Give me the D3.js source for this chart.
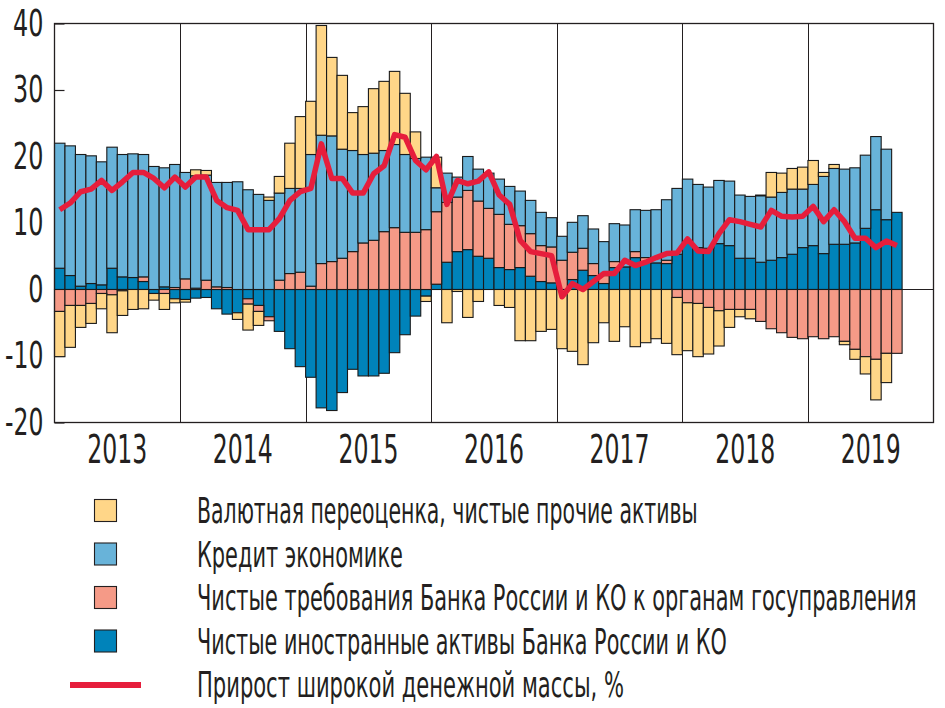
<!DOCTYPE html>
<html>
<head>
<meta charset="utf-8">
<script src="https://cdn.jsdelivr.net/npm/d3@7"></script>
<style>
  html, body { margin: 0; padding: 0; background: #fff; }
  svg { display: block; }
  text { font-family: "Liberation Sans Narrow", "Arial Narrow", "DejaVu Sans Condensed", sans-serif; fill: #231f20; }
</style>
</head>
<body>
<svg id="chart" width="945" height="708"></svg>
<script>
// ---------- DATA ----------
const years = ["2013", "2014", "2015", "2016", "2017", "2018", "2019"];
const yTicks = [-20, -10, 0, 10, 20, 30, 40];

// Чистые иностранные активы Банка России и КО (monthly, Jan 2013 – Sep 2019)
const foreignAssets = [
  3.2, 2.1, 0.5, 0.9, 0.7, 3.2, 1.9, 1.8, 1.2, -0.6, 0.4, -1.4,
  -1.5, -1.3, -1.2, -2.9, -3.7, -3.5, -1.4, -2.4, -4.1, -6.3, -8.9, -11.6,
  -13.2, -17.8, -18.2, -15.5, -12.0, -13.0, -13.0, -12.6, -9.5, -6.8, -4.0, -1.0,
  0.8, 4.1, 5.7, 6.0, 5.0, 4.7, 3.3, 3.0, 3.3, 2.0, 1.2, 1.0,
  0, 1.5, 2.9, 2.1, 0.9, 3.3, 3.4, 4.8, 4.2, 4.0, 3.9, 5.3,
  7.2, 6.3, 6.2, 6.9, 6.6, 4.7, 4.7, 4.1, 4.4, 4.8, 5.3, 6.3,
  6.6, 5.4, 6.8, 6.8, 7.0, 9.2, 12.0, 10.5, 11.6
];
// Чистые требования Банка России и КО к органам госуправления
const govClaims = [
  -3.3, -2.4, -2.4, -2.1, -0.6, -0.8, -0.2, 0, 0.7, 0, -0.6, 0.3,
  1.6, 0.2, 1.4, 0.4, 0.3, 0, -0.8, -0.9, -0.6, 1.4, 2.4, 2.6,
  0.5, 3.9, 4.2, 4.7, 5.7, 7.0, 7.4, 8.7, 9.3, 8.6, 8.6, 9.0,
  10.9, 9.0, 8.2, 8.9, 8.3, 7.5, 8.0, 6.8, 6.3, 6.4, 5.4, 5.4,
  4.4, 4.1, 3.3, 1.8, 1.2, 0.9, 0, 0.9, 0.6, 0, 0.5, -1.2,
  -2.0, -2.1, -2.7, -3.2, -3.0, -3.0, -3.0, -4.8, -5.9, -6.5, -7.2, -7.4,
  -7.1, -7.4, -7.1, -7.8, -9.0, -10.1, -10.5, -9.6, -9.6
];
// Кредит экономике
const creditEconomy = [
  18.8, 19.5, 19.8, 19.2, 18.5, 18.2, 18.4, 18.6, 18.4, 18.5, 17.9, 18.5,
  16.0, 16.9, 15.8, 15.7, 15.8, 16.2, 15.0, 14.3, 13.4, 13.1, 12.8, 12.6,
  19.8, 19.3, 18.9, 16.4, 15.2, 13.3, 13.1, 12.2, 12.5, 11.7, 11.1, 10.9,
  3.6, 4.4, 3.0, 5.1, 4.8, 5.3, 5.3, 5.7, 5.2, 5.0, 5.0, 4.4,
  3.6, 4.5, 4.9, 5.2, 5.1, 5.7, 6.3, 6.3, 7.1, 8.0, 9.1, 9.9,
  9.4, 9.5, 9.2, 9.5, 9.7, 9.5, 9.3, 10.0, 9.5, 9.8, 9.8, 8.8,
  9.2, 11.6, 11.4, 11.3, 11.3, 11.0, 11.0, 10.6, 0
];
// Валютная переоценка, чистые прочие активы
const fxOther = [
  -6.8, -6.3, -3.3, -3.0, -2.3, -5.7, -3.7, -3.0, -2.9, -1.0, -2.4, -0.6,
  -0.4, 0.9, 0.7, 0, 0, -1.0, -3.9, -2.1, 0.5, 2.5, 6.8, 10.8,
  8.0, 16.5, 11.8, 11.1, 5.7, 7.2, 9.7, 10.4, 11.0, 9.2, 4.0, -0.8,
  4.6, -5.0, -0.3, -4.2, -1.8, 0, -2.4, -2.7, -7.7, -7.7, -6.3, -6.0,
  -8.9, -9.3, -11.3, -8.0, -5.0, -7.8, -5.6, -8.6, -8.0, -7.4, -8.1, -8.6,
  -7.2, -8.0, -7.0, -5.3, -2.7, -1.1, -1.4, 0.1, 3.7, 2.9, 3.1, 3.3,
  3.6, 0.6, 0.6, -0.5, -1.5, -2.6, -6.1, -4.4, 0
];
// Прирост широкой денежной массы, %
const moneyGrowth = [
  12.0, 13.0, 14.7, 15.1, 16.4, 14.9, 16.2, 17.6, 17.6, 16.7, 15.3, 16.9,
  15.4, 16.9, 16.9, 13.4, 12.3, 11.9, 9.0, 9.0, 9.0, 10.7, 13.4, 14.7,
  15.2, 21.9, 16.7, 16.7, 14.5, 14.5, 17.4, 18.6, 23.3, 22.9, 19.4, 18.0,
  20.0, 12.8, 16.4, 15.9, 16.3, 17.7, 14.2, 12.8, 7.4, 5.7, 5.4, 5.1,
  -1.1, 0.9, 0.0, 1.2, 2.4, 2.4, 4.4, 3.6, 4.1, 4.8, 5.4, 5.5,
  7.6, 5.8, 5.7, 8.4, 10.5, 10.2, 9.8, 9.4, 11.9, 11.0, 10.9, 11.0,
  12.5, 10.2, 12.0, 10.2, 7.7, 7.7, 6.3, 7.3, 6.6
];

const seriesKeys = ["fa", "gov", "credit", "fx"];
const seriesColors = { fa: "#0083ba", gov: "#f59a87", credit: "#68b3d9", fx: "#ffd688" };
const legendLabels = [
  "Валютная переоценка, чистые прочие активы",
  "Кредит экономике",
  "Чистые требования Банка России и КО к органам госуправления",
  "Чистые иностранные активы Банка России и КО",
  "Прирост широкой денежной массы, %"
];
const legendKeys = ["fx", "credit", "gov", "fa", "line"];
const legendWidths = [501, 206, 720, 530, 427];
const lineColor = "#e61e3c";

// ---------- BUILD ----------
const allMonths = [];
years.forEach(y => { for (let m = 1; m <= 12; m++) allMonths.push(y + "-" + String(m).padStart(2, "0")); });
const table = foreignAssets.map((v, i) => ({
  month: allMonths[i], fa: v, gov: govClaims[i], credit: creditEconomy[i], fx: fxOther[i], line: moneyGrowth[i]
}));

const svg = d3.select("#chart");
const L = 54.5, R = 933.5, T = 23.5, B = 422.5;

const x = d3.scaleBand().domain(allMonths).range([L, R]).padding(0);
const xYear = d3.scaleBand().domain(years).range([L, R]).padding(0);
const y = d3.scaleLinear().domain([-20, 40]).range([B, T]);

// year gridlines
svg.append("g").selectAll("line").data(years.slice(1)).join("line")
  .attr("x1", d => Math.round(xYear(d)) + 0.5).attr("x2", d => Math.round(xYear(d)) + 0.5)
  .attr("y1", T).attr("y2", B).attr("stroke", "#231f20").attr("stroke-width", 1);

// zero line
svg.append("line").attr("x1", L).attr("x2", R).attr("y1", y(0)).attr("y2", y(0))
  .attr("stroke", "#231f20").attr("stroke-width", 1.2);

// y axis
const yAxis = svg.append("g").attr("transform", `translate(${L},0)`)
  .call(d3.axisLeft(y).tickValues(yTicks).tickFormat(d => String(d)).tickSizeInner(-10).tickSizeOuter(0).tickPadding(11));
yAxis.select(".domain").remove();
yAxis.selectAll(".tick line").attr("stroke", "#231f20").attr("stroke-width", 1.2);
yAxis.selectAll(".tick text").style("font-size", "37px").attr("fill", "#231f20")
  .attr("textLength", d => { const s = String(d); return s.replace("-", "").length * 15.2 + (s.includes("-") ? 8 : 0); })
  .attr("lengthAdjust", "spacingAndGlyphs");

// stacked bars
const stack = d3.stack().keys(seriesKeys).offset(d3.stackOffsetDiverging);
const stacked = stack(table);
svg.append("g").selectAll("g").data(stacked).join("g")
  .attr("fill", d => seriesColors[d.key])
  .selectAll("rect").data(d => d.filter(p => Math.abs(p[1] - p[0]) > 1e-9)).join("rect")
  .attr("x", d => x(d.data.month))
  .attr("width", x.bandwidth())
  .attr("y", d => y(Math.max(d[0], d[1])))
  .attr("height", d => Math.abs(y(d[0]) - y(d[1])))
  .attr("stroke", "#1a1a1a").attr("stroke-width", 1.1);

// frame
svg.append("rect").attr("x", L).attr("y", T).attr("width", R - L).attr("height", B - T)
  .attr("fill", "none").attr("stroke", "#231f20").attr("stroke-width", 1.3);

// line
const lineGen = d3.line().x(d => x(d.month) + x.bandwidth() / 2).y(d => y(d.line));
svg.append("path").datum(table).attr("d", lineGen)
  .attr("fill", "none").attr("stroke", lineColor).attr("stroke-width", 5.5).attr("stroke-linejoin", "round");

// x axis (years)
const xAxis = svg.append("g").attr("transform", `translate(0,${B})`)
  .call(d3.axisBottom(xYear).tickSize(0).tickPadding(13));
xAxis.select(".domain").remove();
xAxis.selectAll(".tick text").style("font-size", "39px").attr("fill", "#231f20")
  .attr("textLength", 60).attr("lengthAdjust", "spacingAndGlyphs");

// legend
const lg = svg.append("g");
const rowY = [523, 566.5, 610, 653.5, 697];
legendKeys.forEach((k, i) => {
  if (k === "line") {
    lg.append("line").attr("x1", 70).attr("x2", 141).attr("y1", rowY[i] - 12).attr("y2", rowY[i] - 12)
      .attr("stroke", lineColor).attr("stroke-width", 6);
  } else {
    lg.append("rect").attr("x", 94.5).attr("y", rowY[i] - 23.5).attr("width", 22).attr("height", 22)
      .attr("fill", seriesColors[k]).attr("stroke", "#231f20").attr("stroke-width", 1.1);
  }
  const t = lg.append("text").attr("x", 0).attr("y", 0).style("font-size", "35px").text(legendLabels[i]);
  const w = t.node().getComputedTextLength();
  t.attr("transform", `translate(197,${rowY[i]}) scale(${legendWidths[i] / w},1)`);
});
</script>
</body>
</html>
